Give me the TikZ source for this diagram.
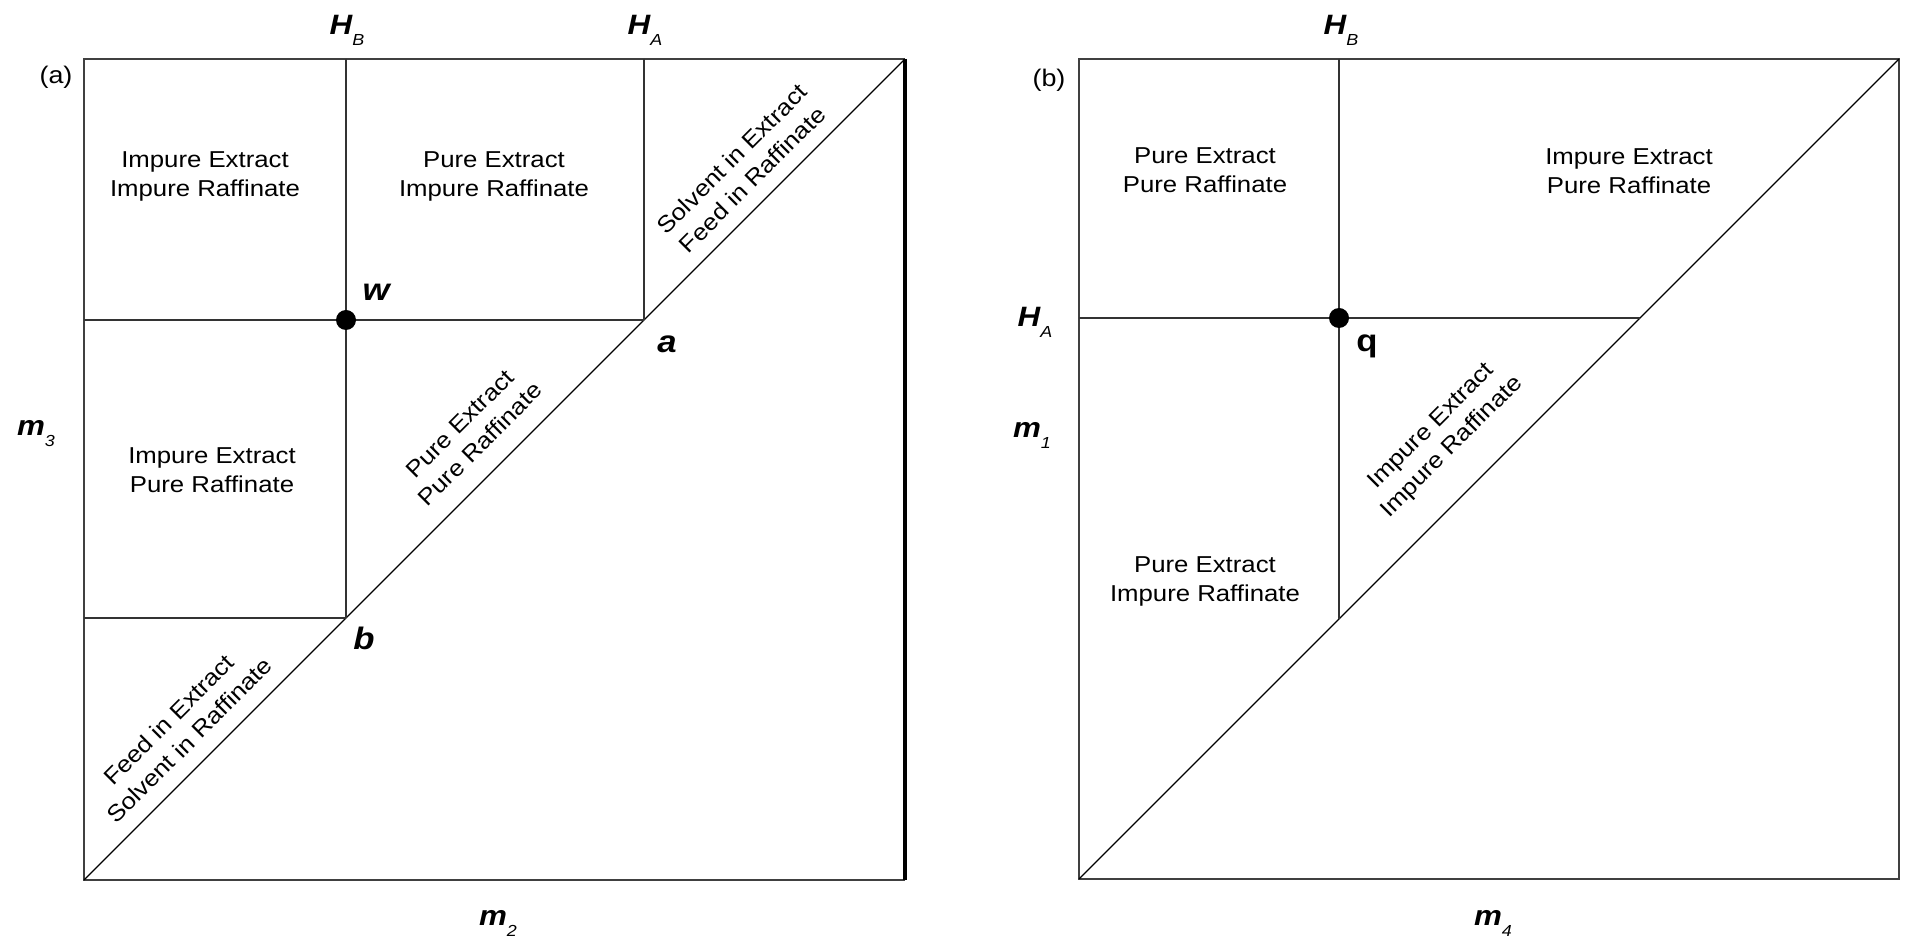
\documentclass[tikz,border=0pt]{standalone}
\usepackage{fontspec}
\setmainfont[FakeStretch=1.12]{Liberation Sans}
\newcommand{\lowsub}[1]{\raisebox{-5.5pt}{\fontsize{8}{8}\selectfont\mdseries\itshape #1}}
\begin{document}
\begin{tikzpicture}[x=0.5pt,y=-0.5pt,
  region/.style={align=center, font=\fontsize{11.5}{14.5}\selectfont, inner sep=0pt},
  lbl/.style={font=\fontsize{14}{16}\selectfont\bfseries\itshape, inner sep=0pt},
  pt/.style={font=\fontsize{15.5}{17}\selectfont\bfseries\itshape, inner sep=0pt},
  ulbl/.style={font=\fontsize{15.5}{17}\selectfont\bfseries, inner sep=0pt},
  tag/.style={font=\fontsize{12}{14}\selectfont, inner sep=0pt},
  frame/.style={draw=black!75, line width=1pt},
  bound/.style={draw=black!80, line width=0.75pt},
  diag/.style={draw=black, line width=0.6pt},
  dot/.style={circle, fill=black, minimum size=10pt, inner sep=0pt}]
\useasboundingbox (0,0) rectangle (1907,940);

% ---------------- panel (a) ----------------
\coordinate (aBL) at (84,880);
\coordinate (aTL) at (84,59);
\coordinate (aTR) at (905,59);
\coordinate (aBR) at (905,880);
\coordinate (aHBt) at (346,59);
\coordinate (aHAt) at (644,59);
\coordinate (aWl) at (84,320);
\coordinate (aBl) at (84,618);
\coordinate (wc) at (346,320);
\coordinate (pa) at (644,320);
\coordinate (pb) at (346,618);

\draw[frame] (aBR) -- (aBL) -- (aTL) -- (aTR);
\draw[draw=black, line width=2pt] (aTR) -- (aBR);
\draw[diag] (aBL) -- (aTR);
\draw[bound] (aHBt) -- (wc) -- (pb);
\draw[bound] (aHAt) -- (pa);
\draw[bound] (aWl) -- (wc) -- (pa);
\draw[bound] (aBl) -- (pb);
\node[dot] (w) at (wc) {};

\node[tag] (ta) at (56,77) {(a)};
\node[lbl, anchor=base] (aHB) at (347,35) {H\lowsub{B}};
\node[lbl, anchor=base] (aHA) at (645,35) {H\lowsub{A}};
\node[lbl, anchor=base] (m3) at (36,436) {m\lowsub{3}};
\node[lbl, anchor=base] (m2) at (498,925) {m\lowsub{2}};

\node[region] (r1) at (205,176) {Impure Extract\\Impure Raffinate};
\node[region] (r2) at (494,176) {Pure Extract\\Impure Raffinate};
\node[region] (r3) at (212,470) {Impure Extract\\Pure Raffinate};
\node[region, rotate=45] (r4) at (470,434) {Pure Extract\\Pure Raffinate};
\node[region, rotate=45] (r5) at (742,169) {Solvent in Extract\\Feed in Raffinate};
\node[region, rotate=45] (r6) at (179,730) {Feed in Extract\\Solvent in Raffinate};

\node[pt] (lw) at (376,292) {w};
\node[pt] (la) at (667,344) {a};
\node[pt] (lb) at (364,638) {b};

% ---------------- panel (b) ----------------
\coordinate (bBL) at (1079,879);
\coordinate (bTL) at (1079,59);
\coordinate (bTR) at (1899,59);
\coordinate (bBR) at (1899,879);
\coordinate (bHBt) at (1339,59);
\coordinate (bHAl) at (1079,318);
\coordinate (qc) at (1339,318);
\coordinate (pq1) at (1640,318);
\coordinate (pq2) at (1339,619);

\draw[frame] (bBL) rectangle (bTR);
\draw[diag] (bBL) -- (bTR);
\draw[bound] (bHBt) -- (qc) -- (pq2);
\draw[bound] (bHAl) -- (qc) -- (pq1);
\node[dot] (q) at (qc) {};

\node[tag] (tb) at (1049,80) {(b)};
\node[lbl, anchor=base] (bHB) at (1341,35) {H\lowsub{B}};
\node[lbl, anchor=base] (bHA) at (1035,327) {H\lowsub{A}};
\node[lbl, anchor=base] (m1) at (1032,438) {m\lowsub{1}};
\node[lbl, anchor=base] (m4) at (1493,925) {m\lowsub{4}};

\node[region] (s1) at (1205,170) {Pure Extract\\Pure Raffinate};
\node[region] (s2) at (1629,171) {Impure Extract\\Pure Raffinate};
\node[region] (s3) at (1205,581) {Pure Extract\\Impure Raffinate};
\node[region, rotate=45] (s4) at (1442,437) {Impure Extract\\Impure Raffinate};

\node[ulbl] (lq) at (1367,346) {q};
\end{tikzpicture}
\end{document}
